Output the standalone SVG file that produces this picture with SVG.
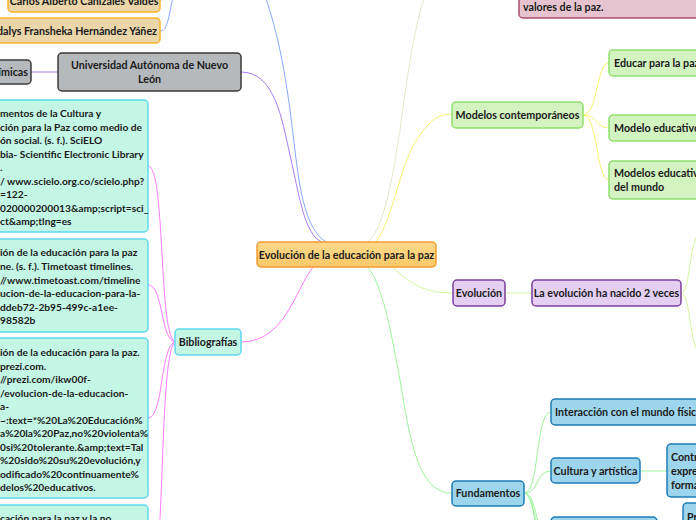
<svg xmlns="http://www.w3.org/2000/svg" width="696" height="520" viewBox="0 0 696 520">
<defs>
<style>
text{font-family:Lato,"Noto Sans","Liberation Sans",sans-serif;font-size:10.7px;font-weight:bold;fill:#1a1a1a;}
.bib text{font-size:10.2px;}
.c{fill:none;stroke-width:1;}
.orange rect{fill:#ead6a9;stroke:#f6b526;stroke-width:1.5;}
.gray rect{fill:#b6b9bc;stroke:#3b3b3b;stroke-width:1.5;}
.cyan rect{fill:#c4f6e6;stroke:#5fd9ee;stroke-width:1.5;}
.green rect{fill:#d3f3c0;stroke:#8fe06c;stroke-width:1.5;}
.purple rect{fill:#e4cff3;stroke:#7a3f9e;stroke-width:1.5;}
.blue rect{fill:#9dd5ec;stroke:#1e7cb8;stroke-width:1.5;}
.pink rect{fill:#e6c3cf;stroke:#ad4f6c;stroke-width:1.5;}
.center rect{fill:url(#gc);stroke:#f39a30;stroke-width:1.5;}
</style>
<linearGradient id="gc" x1="0" y1="0" x2="0" y2="1">
<stop offset="0" stop-color="#fcd98c"/>
<stop offset="1" stop-color="#f9c868"/>
</linearGradient>
</defs>
<rect width="696" height="520" fill="#fff"/>
<g id="connectors">
<path class="c" stroke="#8aa6ff" d="M326,242 C300,225 298,170 290,110 C282,50 272,10 255,-30"/>
<path class="c" stroke="#a57cf2" d="M241,72 C275,72 282,120 290,155 C300,200 305,235 322,242"/>
<path class="c" stroke="#e3e8c6" d="M368,242 C385,225 392,180 400,130 C408,70 415,20 430,-20"/>
<path class="c" stroke="#f5f36c" d="M376,242 C395,215 400,160 420,135 C432,118 440,114 452,114"/>
<path class="c" stroke="#d3f59c" d="M392,267 C412,285 425,293 453,293"/>
<path class="c" stroke="#9cf59a" d="M368,267 C385,290 392,340 400,380 C410,440 418,493 452,493"/>
<path class="c" stroke="#ff7cff" d="M313,267 C295,290 285,342 241,342"/>
<path class="c" stroke="#ff7cff" d="M176,342 C158,342 166,166 148,166"/>
<path class="c" stroke="#ff7cff" d="M176,342 C160,342 164,285 148,285"/>
<path class="c" stroke="#ff7cff" d="M176,342 C160,342 164,418 148,418"/>
<path class="c" stroke="#ff7cff" d="M176,342 C158,342 166,600 148,600"/>
<path class="c" stroke="#8aa6ff" d="M160,31 C170,31 168,8 178,-20"/>
<path class="c" stroke="#8aa6ff" d="M160,0 C170,0 170,-10 178,-20"/>
<path class="c" stroke="#a57cf2" d="M31,72 L58,72"/>
<path class="c" stroke="#f5f36c" d="M583,115 C598,115 596,63 609,63"/>
<path class="c" stroke="#f5f36c" d="M583,115 C598,115 596,128 609,128"/>
<path class="c" stroke="#f5f36c" d="M583,115 C598,115 596,180 609,180"/>
<path class="c" stroke="#d3f59c" d="M505,293 L532,293"/>
<path class="c" stroke="#d3f59c" d="M681,293 C691,293 688,240 702,228"/>
<path class="c" stroke="#d3f59c" d="M681,293 C691,293 688,346 702,358"/>
<path class="c" stroke="#9cf59a" d="M524,493 C540,493 535,412 551,412"/>
<path class="c" stroke="#9cf59a" d="M524,493 C540,493 535,471 551,471"/>
<path class="c" stroke="#9cf59a" d="M524,493 C538,493 535,540 551,540"/>
<path class="c" stroke="#9cf59a" d="M524,493 C540,493 537,590 551,590"/>
<path class="c" stroke="#9cf59a" d="M524,493 C542,493 539,640 551,640"/>
<path class="c" stroke="#9cf59a" d="M640,471 L667,471"/>
</g>
<g id="n-center" class="center"><rect x="257" y="242" width="179" height="25" rx="4"/><text x="346.5" y="258.5" text-anchor="middle">Evolución de la educación para la paz</text></g>
<g id="n-carlos" class="orange"><rect x="8" y="-14" width="152" height="26" rx="4"/><text x="84" y="5" text-anchor="middle">Carlos Alberto Cañizales Valdés</text></g>
<g id="n-idalys" class="orange"><rect x="-10" y="18" width="170" height="25" rx="4"/><text x="157" y="35" text-anchor="end">Idalys Fransheka Hernández Yáñez</text></g>
<g id="n-quimicas" class="gray"><rect x="-40" y="60" width="71" height="24" rx="4"/><text x="28" y="76" text-anchor="end">Químicas</text></g>
<g id="n-uanl" class="gray"><rect x="58" y="53" width="183" height="38" rx="4"/><text x="149.5" y="69" text-anchor="middle">Universidad Autónoma de Nuevo</text><text x="149.5" y="83" text-anchor="middle">León</text></g>
<g id="n-bib" class="cyan"><rect x="175" y="329" width="66" height="26" rx="4"/><text x="208" y="346" text-anchor="middle">Bibliografías</text></g>
<g id="n-bib1" class="cyan bib"><rect x="-20" y="100" width="168" height="132" rx="4"/>
<text x="0" y="117">mentos de la Cultura y</text>
<text x="0" y="130.5">ción para la Paz como medio de</text>
<text x="0" y="144">ón social. (s. f.). SciELO</text>
<text x="0" y="157.5">bia- Scientific Electronic Library</text>
<text x="0" y="171">.</text>
<text x="0" y="184.5">/ www.scielo.org.co/scielo.php?</text>
<text x="0" y="198">=122-</text>
<text x="0" y="211.5">020000200013&amp;amp;script=sci_</text>
<text x="0" y="225">ct&amp;amp;tlng=es</text>
</g>
<g id="n-bib2" class="cyan bib"><rect x="-20" y="239" width="168" height="93" rx="4"/>
<text x="0" y="256">ión de la educación para la paz</text>
<text x="0" y="270">ne. (s. f.). Timetoast timelines.</text>
<text x="0" y="283.5">//www.timetoast.com/timeline</text>
<text x="0" y="297">ucion-de-la-educacion-para-la-</text>
<text x="0" y="310.5">ddeb72-2b95-499c-a1ee-</text>
<text x="0" y="324">98582b</text>
</g>
<g id="n-bib3" class="cyan bib"><rect x="-20" y="338" width="168" height="160" rx="4"/>
<text x="0" y="356">ión de la educación para la paz.</text>
<text x="0" y="369.5">prezi.com.</text>
<text x="0" y="383">//prezi.com/ikw00f-</text>
<text x="0" y="396.5">/evolucion-de-la-educacion-</text>
<text x="0" y="410">a-</text>
<text x="0" y="423.5">~:text=*%20La%20Educación%</text>
<text x="0" y="437">a%20la%20Paz,no%20violenta%</text>
<text x="0" y="450.5">0si%20tolerante.&amp;amp;text=Tal</text>
<text x="0" y="464">%20sido%20su%20evolución,y</text>
<text x="0" y="477.5">odificado%20continuamente%</text>
<text x="0" y="491">delos%20educativos.</text>
</g>
<g id="n-bib4" class="cyan bib"><rect x="-20" y="505" width="168" height="60" rx="4"/>
<text x="0" y="522">cación para la paz y la no</text>
</g>
<g id="n-pink" class="pink"><rect x="519" y="-30" width="200" height="48" rx="4"/><text x="523" y="11">valores de la paz.</text></g>
<g id="n-modelos" class="green"><rect x="452" y="102" width="131" height="26" rx="4"/><text x="517.5" y="119" text-anchor="middle">Modelos contemporáneos</text></g>
<g id="n-educar" class="green"><rect x="609" y="50" width="110" height="26" rx="4"/><text x="614" y="67">Educar para la paz</text></g>
<g id="n-modelo" class="green"><rect x="609" y="115" width="110" height="26" rx="4"/><text x="614" y="132">Modelo educativo</text></g>
<g id="n-modelos-mundo" class="green"><rect x="609" y="161" width="110" height="38" rx="4"/><text x="614" y="177">Modelos educativos</text><text x="614" y="191">del mundo</text></g>
<g id="n-evolucion" class="purple"><rect x="453" y="280" width="52" height="26" rx="4"/><text x="479" y="297" text-anchor="middle">Evolución</text></g>
<g id="n-nacido" class="purple"><rect x="532" y="280" width="149" height="26" rx="4"/><text x="606.5" y="297" text-anchor="middle">La evolución ha nacido 2 veces</text></g>
<g id="n-fund" class="blue"><rect x="452" y="481" width="72" height="25" rx="4"/><text x="488" y="497" text-anchor="middle">Fundamentos</text></g>
<g id="n-interaccion" class="blue"><rect x="551" y="399" width="170" height="26" rx="4"/><text x="555" y="416">Interacción con el mundo físico</text></g>
<g id="n-cultura" class="blue"><rect x="551" y="458" width="89" height="25" rx="4"/><text x="595.5" y="474.5" text-anchor="middle">Cultura y artística</text></g>
<g id="n-contr" class="blue"><rect x="667" y="444" width="60" height="53" rx="4"/><text x="671" y="461">Contr</text><text x="671" y="475">expre</text><text x="671" y="489">forma</text></g>
<g id="n-pr" class="blue"><rect x="683" y="503" width="40" height="40" rx="4"/><text x="687" y="521">Pr</text></g>
<g id="n-bottom" class="blue"><rect x="551" y="517" width="106" height="26" rx="4"/></g>
</svg>
